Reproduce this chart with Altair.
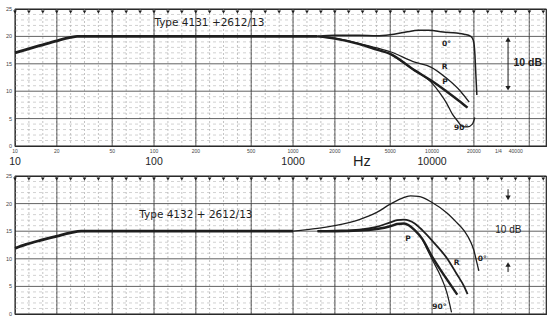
import altair as alt
import pandas as pd

# ---------------- data ----------------
# Top panel: Type 4131 + 2612/13
top_common_f = [10, 12, 15, 20, 25, 28, 50, 100, 1000, 1500]
top_common_db = [17.0, 17.6, 18.3, 19.2, 19.8, 20.0, 20.0, 20.0, 20.0, 20.0]
top_0_f = [1500, 2000, 3000, 4000, 5000, 6500, 8000, 9500, 12000, 15000, 17000, 19000, 19800, 20300, 20700, 21000]
top_0_db = [20.0, 20.2, 20.2, 20.1, 20.3, 20.8, 21.1, 21.1, 20.8, 20.6, 20.4, 20.0, 19.3, 17.0, 12.5, 9.3]
top_R_f = [1500, 2000, 3000, 4000, 5000, 7500, 9800, 12800, 16000, 18500]
top_R_db = [20.0, 19.7, 18.7, 17.9, 17.2, 15.3, 14.4, 12.3, 10.0, 8.0]
top_P_f = [1500, 2000, 3000, 4000, 5000, 7500, 9800, 12800, 15500, 18000]
top_P_db = [20.0, 19.6, 18.6, 17.6, 16.8, 13.8, 12.0, 9.9, 8.3, 7.0]
top_90_f = [5000, 7500, 9800, 11500, 12800, 14000, 15100, 16500, 18000, 19500, 20300]
top_90_db = [16.8, 13.8, 11.7, 9.5, 7.7, 5.8, 4.7, 3.6, 3.5, 4.0, 5.2]

# Bottom panel: Type 4132 + 2612/13
bot_common_f = [10, 12, 15, 20, 25, 30, 100, 1000]
bot_common_db = [11.9, 12.6, 13.3, 14.1, 14.7, 15.0, 15.0, 15.0]
bot_0_f = [1000, 1500, 2000, 3000, 4000, 5000, 6000, 7000, 8000, 10000, 12800, 15000, 17000, 19000, 20000, 21000, 21700]
bot_0_db = [15.0, 15.5, 16.0, 17.1, 18.4, 19.9, 20.9, 21.4, 21.3, 20.2, 18.3, 16.6, 15.1, 13.0, 11.5, 9.3, 7.8]
bot_R_f = [1500, 2000, 3000, 4000, 5000, 5600, 6300, 7500, 8500, 10000, 12800, 15000, 17000, 18000]
bot_R_db = [15.0, 15.1, 15.3, 15.8, 16.6, 17.0, 17.1, 16.4, 15.2, 13.3, 10.1, 7.3, 5.0, 3.6]
bot_P_f = [1500, 2000, 3000, 4000, 5000, 5600, 6300, 7500, 8500, 10000, 11500, 13000, 15200]
bot_P_db = [15.0, 15.0, 15.1, 15.4, 15.9, 16.3, 16.4, 15.2, 13.6, 10.4, 8.0, 6.0, 3.5]
bot_90_f = [8500, 10000, 11500, 12800, 13800]
bot_90_db = [13.6, 9.9, 6.9, 3.8, 0.3]

# axis / grid labels
y_ticks = [0, 5, 10, 15, 20, 25]
minor_db = [1, 2, 3, 4, 6, 7, 8, 9, 11, 12, 13, 14, 16, 17, 18, 19, 21, 22, 23, 24]
major_f = [10, 20, 50, 100, 200, 500, 1000, 2000, 5000, 10000, 20000, 50000]
small_lab_f = [10, 20, 50, 100, 200, 500, 1000, 2000, 5000, 10000, 20000, 30000, 40000]
small_lab_t = ["10", "20", "50", "100", "200", "500", "1000", "2000", "5000", "10000", "20000", "1/4", "40000"]
big_lab_f = [10, 100, 1000, 10000]
big_lab_t = ["10", "100", "1000", "10000"]
hz_f = [3130]
marker_steps = list(range(0, 39))  # paper marks every 0.1 decade

top_title = ["Type 4131 +2612/13"]
top_title_pos = [250, 22.4]
bot_title = ["Type 4132 + 2612/13"]
bot_title_pos = [200, 17.9]

top_curve_lab = ["0°", "R", "P", "90°"]
top_curve_lab_f = [12700, 12300, 12400, 16200]
top_curve_lab_db = [18.7, 14.4, 11.6, 3.2]
bot_curve_lab = ["0°", "R", "P", "90°"]
bot_curve_lab_f = [23000, 15000, 6700, 11300]
bot_curve_lab_db = [9.9, 9.2, 13.6, 1.2]

arrow_f = 35200
top_10db_f = 38500
bot_10db_f = 28500

XDOM = [10, 66000]
INK = "#1e1e1e"
NUMFONT = "Liberation Sans"


def curve_df(name, fs, dbs):
    return pd.DataFrame({"curve": [name] * len(fs), "freq": fs, "db": dbs})


def X(field="freq"):
    return alt.X(f"{field}:Q", scale=alt.Scale(type="log", domain=XDOM), axis=None)


def Y(field="db"):
    return alt.Y(f"{field}:Q", scale=alt.Scale(domain=[0, 25]), axis=None)


def Y2(field="db2"):
    return alt.Y2(f"{field}:Q")


def panel(common, curves, widths, title, title_pos, clab, clab_f, clab_db,
          height, with_xlabels, arrow_kind, ten_db_f, ten_bold):
    minor_f = [10 ** (1 + k / 10) for k in marker_steps]
    vminor = alt.Chart(pd.DataFrame({"freq": minor_f})).mark_rule(
        color="#9a9a9a", strokeWidth=0.6, strokeDash=[2, 2]).encode(x=X())
    vmajor = alt.Chart(pd.DataFrame({"freq": major_f})).mark_rule(
        color="#3a3a3a", strokeWidth=0.8).encode(x=X())
    hminor = alt.Chart(pd.DataFrame({"db": minor_db})).mark_rule(
        color="#b4b4b4", strokeWidth=0.6, strokeDash=[3, 3]).encode(y=Y())
    hmajor = alt.Chart(pd.DataFrame({"db": y_ticks})).mark_rule(
        color="#3a3a3a", strokeWidth=0.8).encode(y=Y())

    marks = alt.Chart(pd.DataFrame({"freq": minor_f, "db": [25] * len(minor_f)})).mark_point(
        shape="triangle-down", filled=True, size=14, color=INK, opacity=1, yOffset=3
    ).encode(x=X(), y=Y())

    ylabels = alt.Chart(pd.DataFrame({"freq": [10] * len(y_ticks), "db": y_ticks,
                                      "t": [str(v) for v in y_ticks]})).mark_text(
        fontSize=5.5, align="right", baseline="middle", dx=-3, color="#444", font=NUMFONT
    ).encode(x=X(), y=Y(), text="t:N")

    common_line = alt.Chart(curve_df("common", common[0], common[1])).mark_line(
        color=INK, strokeWidth=2.8, interpolate="monotone").encode(x=X(), y=Y())

    layers = [vminor, hminor, vmajor, hmajor, marks, ylabels, common_line]
    for (name, fs, dbs), w in zip(curves, widths):
        layers.append(alt.Chart(curve_df(name, fs, dbs)).mark_line(
            color=INK, strokeWidth=w, interpolate="monotone").encode(x=X(), y=Y()))

    tdf = pd.DataFrame({"freq": [title_pos[0]], "db": [title_pos[1]], "t": title})
    layers.append(alt.Chart(tdf).mark_text(fontSize=10.5, font="DejaVu Sans", color=INK,
                                           baseline="middle", align="center").encode(
        x=X(), y=Y(), text="t:N"))

    ldf = pd.DataFrame({"freq": clab_f, "db": clab_db, "t": clab})
    layers.append(alt.Chart(ldf).mark_text(fontSize=7.5, font="DejaVu Sans", color=INK,
                                           fontWeight="bold", baseline="middle", align="center").encode(
        x=X(), y=Y(), text="t:N"))

    if arrow_kind == "inner":
        shafts = pd.DataFrame({"freq": [arrow_f], "db": [19.5], "db2": [10.5]})
        ups = pd.DataFrame({"freq": [arrow_f], "db": [20.0]})
        downs = pd.DataFrame({"freq": [arrow_f], "db": [10.0]})
    else:
        shafts = pd.DataFrame({"freq": [arrow_f, arrow_f], "db": [22.6, 9.0], "db2": [21.0, 7.6]})
        ups = pd.DataFrame({"freq": [arrow_f], "db": [9.5]})
        downs = pd.DataFrame({"freq": [arrow_f], "db": [20.5]})
    layers.append(alt.Chart(shafts).mark_rule(color=INK, strokeWidth=1).encode(
        x=X(), y=Y(), y2=Y2()))
    layers.append(alt.Chart(ups).mark_point(shape="triangle-up", filled=True, size=28,
                                            color=INK, opacity=1, yOffset=3).encode(x=X(), y=Y()))
    layers.append(alt.Chart(downs).mark_point(shape="triangle-down", filled=True, size=28,
                                              color=INK, opacity=1, yOffset=-3).encode(x=X(), y=Y()))

    tdb = pd.DataFrame({"freq": [ten_db_f], "db": [15.2], "t": ["10 dB"]})
    layers.append(alt.Chart(tdb).mark_text(fontSize=10.5 if ten_bold else 10, font=NUMFONT, color=INK,
                                           fontWeight="bold" if ten_bold else "normal",
                                           align="left", baseline="middle").encode(
        x=X(), y=Y(), text="t:N"))

    if with_xlabels:
        sdf = pd.DataFrame({"freq": small_lab_f, "db": [0] * len(small_lab_f), "t": small_lab_t})
        layers.append(alt.Chart(sdf).mark_text(fontSize=5, font=NUMFONT, color="#444",
                                               baseline="top", dy=3).encode(
            x=X(), y=Y(), text="t:N"))
        bdf = pd.DataFrame({"freq": big_lab_f, "db": [0] * len(big_lab_f), "t": big_lab_t})
        layers.append(alt.Chart(bdf).mark_text(fontSize=10.5, font=NUMFONT, color=INK,
                                               baseline="top", dy=11).encode(
            x=X(), y=Y(), text="t:N"))
        hdf = pd.DataFrame({"freq": hz_f, "db": [0], "t": ["Hz"]})
        layers.append(alt.Chart(hdf).mark_text(fontSize=14.5, font=NUMFONT, color=INK,
                                               baseline="top", dy=9).encode(
            x=X(), y=Y(), text="t:N"))

    return alt.layer(*layers).properties(width=531, height=height)


top = panel(
    (top_common_f, top_common_db),
    [("0", top_0_f, top_0_db), ("R", top_R_f, top_R_db),
     ("P", top_P_f, top_P_db), ("90", top_90_f, top_90_db)],
    [1.5, 1.3, 2.4, 1.3],
    top_title, top_title_pos, top_curve_lab, top_curve_lab_f, top_curve_lab_db,
    137, True, "inner", top_10db_f, True)

bottom = panel(
    (bot_common_f, bot_common_db),
    [("0", bot_0_f, bot_0_db), ("R", bot_R_f, bot_R_db),
     ("P", bot_P_f, bot_P_db), ("90", bot_90_f, bot_90_db)],
    [1.3, 1.8, 2.4, 1.2],
    bot_title, bot_title_pos, bot_curve_lab, bot_curve_lab_f, bot_curve_lab_db,
    138, False, "outer", bot_10db_f, False)

chart = alt.vconcat(top, bottom, spacing=30, bounds="flush").properties(
    padding={"left": 5, "top": 6, "right": 0, "bottom": 0},
    background="white",
).configure_view(stroke=INK, strokeWidth=1.2)

chart.save("out.html", embed_options={"renderer": "svg", "actions": False})
